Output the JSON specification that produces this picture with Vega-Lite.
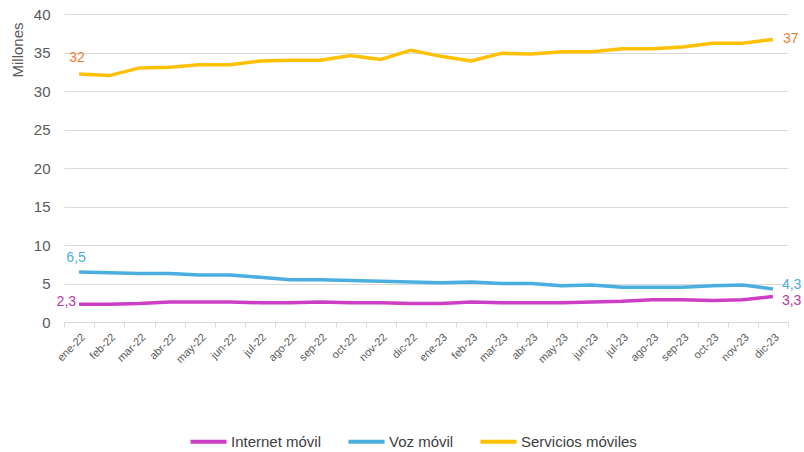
{
  "$schema": "https://vega.github.io/schema/vega-lite/v6.json",
  "width": 724,
  "height": 308,
  "autosize": {"type": "none"},
  "padding": {"left": 64, "top": 14, "right": 16, "bottom": 130},
  "config": {
    "view": {"stroke": null},
    "font": "Liberation Sans",
    "locale": {"number": {"decimal": ",", "thousands": ".", "grouping": [3], "currency": ["", " €"]}}
  },
  "data": {"values": [
    {"mes": "ene-22", "Internet móvil": 2.3, "Voz móvil": 6.5, "Servicios móviles": 32.2},
    {"mes": "feb-22", "Internet móvil": 2.3, "Voz móvil": 6.4, "Servicios móviles": 32.0},
    {"mes": "mar-22", "Internet móvil": 2.4, "Voz móvil": 6.3, "Servicios móviles": 33.0},
    {"mes": "abr-22", "Internet móvil": 2.6, "Voz móvil": 6.3, "Servicios móviles": 33.1},
    {"mes": "may-22", "Internet móvil": 2.6, "Voz móvil": 6.1, "Servicios móviles": 33.4},
    {"mes": "jun-22", "Internet móvil": 2.6, "Voz móvil": 6.1, "Servicios móviles": 33.4},
    {"mes": "jul-22", "Internet móvil": 2.5, "Voz móvil": 5.8, "Servicios móviles": 33.9},
    {"mes": "ago-22", "Internet móvil": 2.5, "Voz móvil": 5.5, "Servicios móviles": 34.0},
    {"mes": "sep-22", "Internet móvil": 2.6, "Voz móvil": 5.5, "Servicios móviles": 34.0},
    {"mes": "oct-22", "Internet móvil": 2.5, "Voz móvil": 5.4, "Servicios móviles": 34.6},
    {"mes": "nov-22", "Internet móvil": 2.5, "Voz móvil": 5.3, "Servicios móviles": 34.1},
    {"mes": "dic-22", "Internet móvil": 2.4, "Voz móvil": 5.2, "Servicios móviles": 35.3},
    {"mes": "ene-23", "Internet móvil": 2.4, "Voz móvil": 5.1, "Servicios móviles": 34.5},
    {"mes": "feb-23", "Internet móvil": 2.6, "Voz móvil": 5.2, "Servicios móviles": 33.9},
    {"mes": "mar-23", "Internet móvil": 2.5, "Voz móvil": 5.0, "Servicios móviles": 34.9},
    {"mes": "abr-23", "Internet móvil": 2.5, "Voz móvil": 5.0, "Servicios móviles": 34.8},
    {"mes": "may-23", "Internet móvil": 2.5, "Voz móvil": 4.7, "Servicios móviles": 35.1},
    {"mes": "jun-23", "Internet móvil": 2.6, "Voz móvil": 4.8, "Servicios móviles": 35.1},
    {"mes": "jul-23", "Internet móvil": 2.7, "Voz móvil": 4.5, "Servicios móviles": 35.5},
    {"mes": "ago-23", "Internet móvil": 2.9, "Voz móvil": 4.5, "Servicios móviles": 35.5},
    {"mes": "sep-23", "Internet móvil": 2.9, "Voz móvil": 4.5, "Servicios móviles": 35.7},
    {"mes": "oct-23", "Internet móvil": 2.8, "Voz móvil": 4.7, "Servicios móviles": 36.2},
    {"mes": "nov-23", "Internet móvil": 2.9, "Voz móvil": 4.8, "Servicios móviles": 36.2},
    {"mes": "dic-23", "Internet móvil": 3.3, "Voz móvil": 4.3, "Servicios móviles": 36.7}
  ]},
  "transform": [
    {"fold": ["Internet móvil", "Voz móvil", "Servicios móviles"], "as": ["serie", "valor"]}
  ],
  "encoding": {
    "x": {
      "field": "mes", "type": "ordinal", "sort": null,
      "scale": {"paddingInner": 0, "paddingOuter": 0},
      "axis": {
        "title": null, "labelAngle": -45, "labelFontSize": 11, "labelColor": "#595959",
        "domainColor": "#d9d9d9", "tickColor": "#d9d9d9", "tickSize": 5, "tickBand": "extent",
        "labelPadding": 4
      }
    },
    "y": {
      "field": "valor", "type": "quantitative",
      "scale": {"domain": [0, 40]},
      "axis": {
        "title": "Millones", "titleFontWeight": "normal", "titleFontSize": 15, "titleColor": "#595959",
        "titleAnchor": "end", "titleAlign": "right", "titleY": 8, "titlePadding": 8,
        "values": [0, 5, 10, 15, 20, 25, 30, 35, 40],
        "labelFontSize": 15, "labelColor": "#595959", "labelPadding": 14,
        "domain": false, "ticks": false, "gridColor": "#d9d9d9", "gridWidth": 1.2
      }
    }
  },
  "layer": [
    {
      "mark": {"type": "line", "strokeWidth": 3.5},
      "encoding": {
        "color": {
          "field": "serie", "type": "nominal",
          "scale": {"domain": ["Internet móvil", "Voz móvil", "Servicios móviles"], "range": ["#CC3EC6", "#4BAEE0", "#FFC000"]},
          "legend": {
            "title": null, "orient": "none", "direction": "horizontal", "legendX": 124, "legendY": 407,
            "symbolType": "stroke", "symbolStrokeWidth": 4, "symbolSize": 1300,
            "labelFontSize": 15, "labelColor": "#404040", "columnPadding": 18, "labelOffset": 2
          }
        }
      }
    },
    {
      "transform": [{"filter": "datum.serie == 'Servicios móviles' && datum.mes == 'ene-22'"}],
      "mark": {"type": "text", "align": "center", "dx": -2, "dy": -16, "fontSize": 14, "color": "#ED7D31"},
      "encoding": {"text": {"field": "valor", "type": "quantitative", "format": ".0f"}}
    },
    {
      "transform": [{"filter": "datum.serie == 'Servicios móviles' && datum.mes == 'dic-23'"}],
      "mark": {"type": "text", "align": "left", "dx": 10, "dy": 0, "fontSize": 14, "color": "#ED7D31"},
      "encoding": {"text": {"field": "valor", "type": "quantitative", "format": ".0f"}}
    },
    {
      "transform": [{"filter": "datum.serie == 'Voz móvil' && datum.mes == 'ene-22'"}],
      "mark": {"type": "text", "align": "center", "dx": -3, "dy": -14, "fontSize": 14, "color": "#4BAEE0"},
      "encoding": {"text": {"field": "valor", "type": "quantitative", "format": ".1f"}}
    },
    {
      "transform": [{"filter": "datum.serie == 'Voz móvil' && datum.mes == 'dic-23'"}],
      "mark": {"type": "text", "align": "left", "dx": 9, "dy": -4, "fontSize": 14, "color": "#4BAEE0"},
      "encoding": {"text": {"field": "valor", "type": "quantitative", "format": ".1f"}}
    },
    {
      "transform": [{"filter": "datum.serie == 'Internet móvil' && datum.mes == 'ene-22'"}],
      "mark": {"type": "text", "align": "right", "dx": -3, "dy": -2, "fontSize": 14, "color": "#B2389F"},
      "encoding": {"text": {"field": "valor", "type": "quantitative", "format": ".1f"}}
    },
    {
      "transform": [{"filter": "datum.serie == 'Internet móvil' && datum.mes == 'dic-23'"}],
      "mark": {"type": "text", "align": "left", "dx": 9, "dy": 4, "fontSize": 14, "color": "#B2389F"},
      "encoding": {"text": {"field": "valor", "type": "quantitative", "format": ".1f"}}
    }
  ]
}
